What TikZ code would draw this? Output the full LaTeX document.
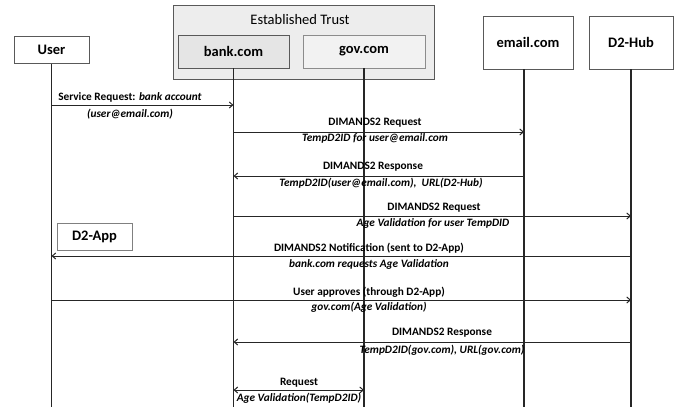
\documentclass[tikz,border=0pt]{standalone}
\usepackage{fontspec}
\setmainfont{Carlito}
\usetikzlibrary{arrows.meta}
\begin{document}
\begin{tikzpicture}[x=1pt,y=-1pt,
  actor/.style={draw=black!65,line width=0.9pt,fill=white,inner sep=0pt,font=\fontsize{14.5}{16}\selectfont\bfseries},
  life/.style={draw=black!85,line width=1.3pt},
  msg/.style={draw=black!85,line width=1pt,-{Straight Barb[length=3.5pt,width=6pt]}},
  lbl/.style={inner sep=0pt,font=\fontsize{11.3}{12}\selectfont\bfseries},
  ilbl/.style={inner sep=0pt,font=\fontsize{11.3}{12}\selectfont\bfseries\itshape}]
\useasboundingbox (0,0) rectangle (681,407);
% Established trust group
\node[draw=black!65,line width=0.9pt,fill=black!7,minimum width=261pt,minimum height=74pt,inner sep=0pt] (trust) at (303.5,42) {};
\node[inner sep=0pt,font=\fontsize{14.5}{16}\selectfont] (trustlbl) at (300,20) {Established Trust};
% actors
\node[actor,minimum width=75pt,minimum height=27pt] (user) at (51.5,50) {User};
\node[actor,fill=black!10,minimum width=111pt,minimum height=33pt] (bank) at (233.5,51.5) {bank.com};
\node[actor,fill=black!5,draw=black!45,minimum width=122pt,minimum height=33pt] (gov) at (364,51.5) {gov.com};
\node[actor,minimum width=90pt,minimum height=53pt] (email) at (528,42.5) {email.com};
\node[actor,minimum width=84pt,minimum height=53pt] (hub) at (631,42.5) {D2-Hub};
\node[actor,draw=black!50,minimum width=75pt,minimum height=27pt] (app) at (94.5,236.5) {D2-App};
% lifeline anchors
\coordinate (bot) at (0,407);
\coordinate (emailx) at ([xshift=-4pt]email.south);
% lifelines
\draw[life] (user.south) -- (user |- bot);
\draw[life] (bank.south) -- (bank |- bot);
\draw[life] (gov.south) -- (gov |- bot);
\draw[life] (emailx) -- (emailx |- bot);
\draw[life] (hub.south) -- (hub |- bot);
% message rows
\coordinate (m1) at (0,105);
\coordinate (m2) at (0,132);
\coordinate (m3) at (0,176);
\coordinate (m4) at (0,216);
\coordinate (m5) at (0,256);
\coordinate (m6) at (0,300);
\coordinate (m7) at (0,342);
\coordinate (m8) at (0,390);
\draw[msg] (user |- m1) -- (bank |- m1);
\draw[msg] (bank |- m2) -- (emailx |- m2);
\draw[msg] (emailx |- m3) -- (bank |- m3);
\draw[msg] (bank |- m4) -- (hub |- m4);
\draw[msg] (hub |- m5) -- (user |- m5);
\draw[msg] (user |- m6) -- (hub |- m6);
\draw[msg] (hub |- m7) -- (bank |- m7);
\draw[msg,{Straight Barb[length=3.5pt,width=6pt]}-{Straight Barb[length=3.5pt,width=6pt]}] (bank |- m8) -- (gov |- m8);
% labels
\node[lbl] (l1a) at (130,97) {Service Request: \textit{bank account}};
\node[ilbl] (l1b) at (130,114) {(user@email.com)};
\node[lbl] (l2a) at (375,123) {DIMANDS2 Request};
\node[ilbl] (l2b) at (375,138) {TempD2ID for user@email.com};
\node[lbl] (l3a) at (373,167) {DIMANDS2 Response};
\node[ilbl] (l3b) at (381,183.5) {TempD2ID(user@email.com),\ \ URL(D2-Hub)};
\node[lbl] (l4a) at (434,208) {DIMANDS2 Request};
\node[ilbl] (l4b) at (433,223.5) {Age Validation for user TempDID};
\node[lbl] (l5a) at (369,248) {DIMANDS2 Notification (sent to D2-App)};
\node[ilbl] (l5b) at (369,264) {bank.com requests Age Validation};
\node[lbl] (l6a) at (369,292) {User approves (through D2-App)};
\node[ilbl] (l6b) at (369,307.5) {gov.com(Age Validation)};
\node[lbl] (l7a) at (442,333) {DIMANDS2 Response};
\node[ilbl] (l7b) at (442,350) {TempD2ID(gov.com), URL(gov.com)};
\node[lbl] (l8a) at (299,383) {Request};
\node[ilbl] (l8b) at (299,398.5) {Age Validation(TempD2ID)};
\end{tikzpicture}
\end{document}
